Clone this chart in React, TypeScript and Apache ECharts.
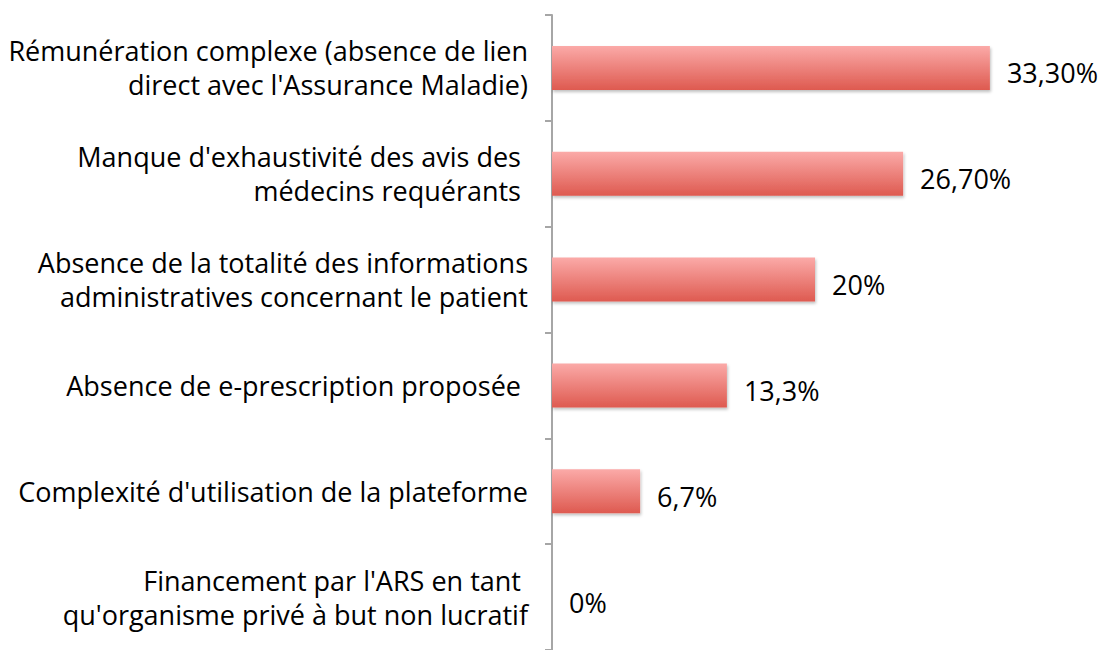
import React, { useEffect, useRef } from "react";
import * as echarts from "echarts";

const categories = [
  "Rémunération complexe (absence de lien\ndirect avec l'Assurance Maladie)",
  "Manque d'exhaustivité des avis des \nmédecins requérants ",
  "Absence de la totalité des informations\nadministratives concernant le patient",
  "Absence de e-prescription proposée ",
  "Complexité d'utilisation de la plateforme",
  "Financement par l'ARS en tant \nqu'organisme privé à but non lucratif",
];
const values = [33.3, 26.7, 20, 13.3, 6.7, 0];
const valueLabels = ["33,30%", "26,70%", "20%", "13,3%", "6,7%", "0%"];

const FONT = "Open Sans";

export default function App() {
  const ref = useRef<HTMLDivElement>(null);
  useEffect(() => {
    if (!ref.current) return;
    const chart = echarts.init(ref.current, undefined, { renderer: "svg" });
    chart.setOption({
      animation: false,
      backgroundColor: "#ffffff",
      grid: { left: 552, top: 15, width: 526, height: 641 },
      xAxis: { type: "value", min: 0, max: 40, show: false },
      yAxis: {
        type: "category",
        inverse: true,
        data: categories,
        axisLine: { show: true, lineStyle: { color: "#A6A6A6", width: 2 } },
        axisTick: { show: true, length: 7, lineStyle: { color: "#A6A6A6", width: 2 } },
        axisLabel: {
          color: "#000000",
          fontFamily: FONT,
          fontSize: 27,
          lineHeight: 34,
          margin: 24,
          align: "right",
        },
      },
      series: [
        {
          type: "bar",
          data: values,
          barWidth: 44,
          itemStyle: {
            color: new echarts.graphic.LinearGradient(0, 0, 0, 1, [
              { offset: 0, color: "#FBAAA8" },
              { offset: 1, color: "#DE5A50" },
            ]),
            shadowColor: "rgba(0,0,0,0.25)",
            shadowBlur: 3,
            shadowOffsetX: 1,
            shadowOffsetY: 2,
          },
          label: {
            show: true,
            position: "right",
            distance: 17,
            offset: [0, 5],
            color: "#000000",
            fontFamily: FONT,
            fontSize: 27,
            formatter: (p: any) => valueLabels[p.dataIndex],
          },
        },
      ],
    });
    return () => chart.dispose();
  }, []);
  return (
    <div
      ref={ref}
      style={{ position: "absolute", left: 0, top: 0, width: 1103, height: 650 }}
    />
  );
}
